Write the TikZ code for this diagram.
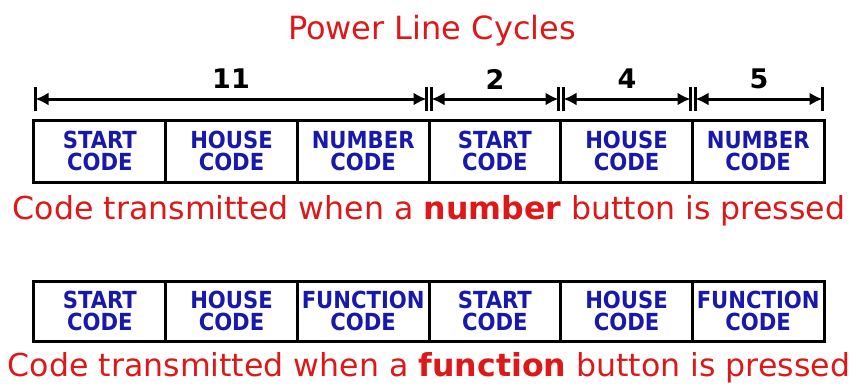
\documentclass[tikz,border=0pt]{standalone}
\usepackage{fontspec}
\setmainfont{DejaVu Sans}
\newfontfamily\boxfont{DejaVu Sans Condensed}
\usetikzlibrary{arrows.meta}
\definecolor{capred}{RGB}{222,24,24}
\definecolor{codeblue}{RGB}{24,24,170}
\begin{document}
\begin{tikzpicture}[x=1pt,y=-1pt,
  codebox/.style={draw=black, line width=3pt, minimum width=131.67pt,
    minimum height=62pt, inner sep=0pt, outer sep=0pt, text=codeblue,
    font=\boxfont\bfseries\fontsize{23.5}{21.5}\selectfont, align=center},
  dimline/.style={line width=3pt, {Latex[length=13pt,width=13pt]}-{Latex[length=13pt,width=13pt]}},
  dimtick/.style={line width=2.2pt},
  dimlabel/.style={font=\bfseries\fontsize{27}{27}\selectfont, text=black, inner sep=0pt},
  caption/.style={font=\fontsize{31.6}{31.6}\selectfont, text=capred, inner sep=0pt}]
\useasboundingbox (0,0) rectangle (856,389);
% title
\node[caption, font=\fontsize{32}{32}\selectfont] (title) at (432,31) {Power Line Cycles};
% dimension coordinates
\coordinate (a0) at (35.5,99);
\coordinate (b0) at (426.5,99);
\coordinate (a1) at (431.5,99);
\coordinate (b1) at (558.5,99);
\coordinate (a2) at (563.5,99);
\coordinate (b2) at (690.5,99);
\coordinate (a3) at (695.5,99);
\coordinate (b3) at (822.5,99);
\foreach \i in {0,1,2,3}{
  \draw[dimline] (a\i) -- (b\i);
  \draw[dimtick] ([yshift=12pt]a\i) -- ([yshift=-12pt]a\i);
  \draw[dimtick] ([yshift=12pt]b\i) -- ([yshift=-12pt]b\i);
}
\node[dimlabel] (l11) at (231,79) {11};
\node[dimlabel] (l2) at (495,79) {2};
\node[dimlabel] (l4) at (627,79) {4};
\node[dimlabel] (l5) at (759,79) {5};
% row 1
\node[codebox] (s1) at (99.83,151) {START\\CODE};
\node[codebox] (h1) at (231.5,151) {HOUSE\\CODE};
\node[codebox] (n1) at (363.17,151) {NUMBER\\CODE};
\node[codebox] (s2) at (494.83,151) {START\\CODE};
\node[codebox] (h2) at (626.5,151) {HOUSE\\CODE};
\node[codebox] (n2) at (758.17,151) {NUMBER\\CODE};
\node[caption] (cap1) at (429,211) {Code transmitted when a \textbf{number} button is pressed};
% row 2
\node[codebox, minimum height=60pt] (s3) at (99.83,311) {START\\CODE};
\node[codebox, minimum height=60pt] (h3) at (231.5,311) {HOUSE\\CODE};
\node[codebox, minimum height=60pt] (f1) at (363.17,311) {FUNCTION\\CODE};
\node[codebox, minimum height=60pt] (s4) at (494.83,311) {START\\CODE};
\node[codebox, minimum height=60pt] (h4) at (626.5,311) {HOUSE\\CODE};
\node[codebox, minimum height=60pt] (f2) at (758.17,311) {FUNCTION\\CODE};
\node[caption] (cap2) at (429,368) {Code transmitted when a \textbf{function} button is pressed};
\end{tikzpicture}
\end{document}
